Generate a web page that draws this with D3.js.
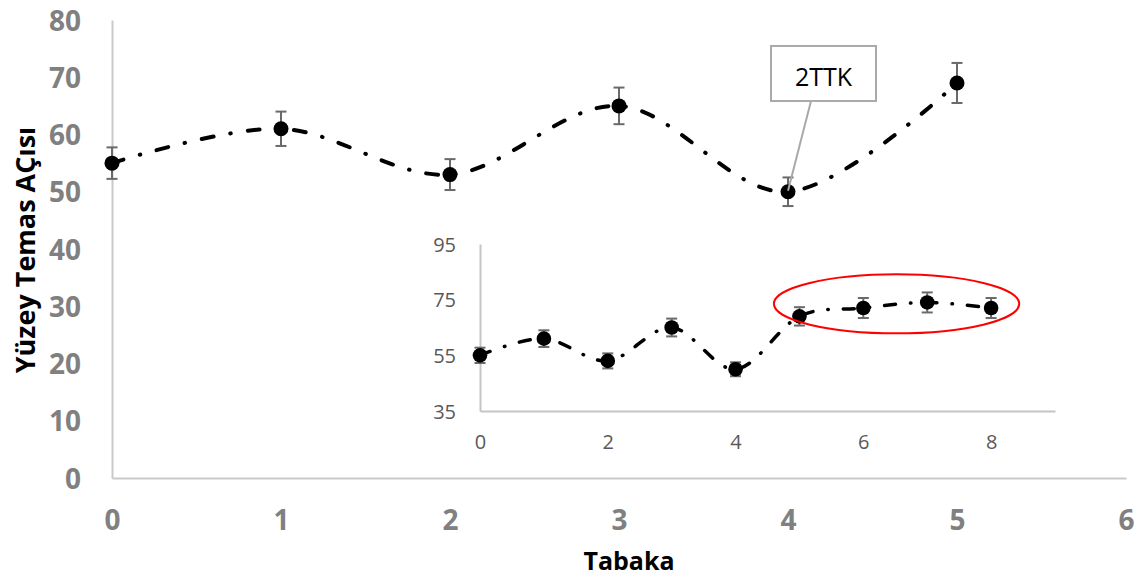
<!DOCTYPE html>
<html>
<head>
<meta charset="utf-8">
<script src="https://cdn.jsdelivr.net/npm/d3@7"></script>
<style>
  html, body { margin: 0; padding: 0; background: #fff; }
  svg { display: block; }
</style>
</head>
<body>
<svg id="chart" width="1144" height="581"></svg>
<script>
// Contact angle per layer (main series)
const layers = [0, 1, 2, 3, 4, 5];
const angles = [55, 61, 53, 65, 50, 69];
const errors = [2.75, 3.0, 2.7, 3.2, 2.5, 3.5];

// Extended series shown in the inset
const insetLayers = [0, 1, 2, 3, 4, 5, 6, 7, 8];
const insetAngles = [55, 61, 53, 65, 50, 69, 72, 74, 72];
const insetErrors = [2.75, 3.0, 2.7, 3.2, 2.5, 3.3, 3.6, 3.6, 3.6];

// Tick labels
const mainYTicks = [0, 10, 20, 30, 40, 50, 60, 70, 80];
const mainXTicks = [0, 1, 2, 3, 4, 5, 6];
const insetYTicks = [35, 55, 75, 95];
const insetXTicks = [0, 2, 4, 6, 8];

const FONT = "'Open Sans', 'Liberation Sans', sans-serif";
const svg = d3.select("#chart");

// ---------- main chart ----------
const x = d3.scaleLinear().domain([0, 6]).range([112, 1126]);
const y = d3.scaleLinear().domain([0, 80]).range([478, 20]);

const yAxis = svg.append("g")
  .attr("transform", `translate(${x(0)},0)`)
  .call(d3.axisLeft(y).tickValues(mainYTicks).tickSize(0).tickPadding(31).tickFormat(d3.format("d")));
const xAxis = svg.append("g")
  .attr("transform", `translate(0,${y(0)})`)
  .call(d3.axisBottom(x).tickValues(mainXTicks).tickSize(0).tickPadding(0).tickFormat(d3.format("d")));

[yAxis, xAxis].forEach(g => {
  g.select(".domain").attr("stroke", "#c9c9c9").attr("stroke-width", 2);
  g.selectAll("text")
    .attr("font-family", FONT).attr("font-weight", "bold")
    .attr("font-size", 28).attr("fill", "#808080");
});
yAxis.selectAll("text").attr("dy", "0.36em");
xAxis.selectAll("text").attr("y", 52).attr("dy", "0");

// axis titles
svg.append("text")
  .attr("transform", "translate(35,250) rotate(-90)")
  .attr("text-anchor", "middle")
  .attr("font-family", FONT).attr("font-weight", "bold").attr("font-size", 27)
  .attr("fill", "#000")
  .text("Yüzey Temas AÇısı");
svg.append("text")
  .attr("x", 629).attr("y", 570)
  .attr("text-anchor", "middle")
  .attr("font-family", FONT).attr("font-weight", "bold").attr("font-size", 25)
  .attr("fill", "#000")
  .text("Tabaka");

const mainData = layers.map((l, i) => ({ l, v: angles[i], e: errors[i] }));

// error bars
const eb = svg.append("g").attr("stroke", "#6a6a6a").attr("stroke-width", 2);
mainData.forEach(d => {
  const cx = x(d.l), y0 = y(d.v - d.e), y1 = y(d.v + d.e);
  eb.append("line").attr("x1", cx).attr("x2", cx).attr("y1", y0).attr("y2", y1);
  eb.append("line").attr("x1", cx - 5.5).attr("x2", cx + 5.5).attr("y1", y0).attr("y2", y0);
  eb.append("line").attr("x1", cx - 5.5).attr("x2", cx + 5.5).attr("y1", y1).attr("y2", y1);
});

// smoothed dash-dot line
const mainLine = d3.line().x(d => x(d.l)).y(d => y(d.v)).curve(d3.curveCardinal.tension(0));
svg.append("path")
  .datum(mainData)
  .attr("d", mainLine)
  .attr("fill", "none").attr("stroke", "#000").attr("stroke-width", 4)
  .attr("stroke-linecap", "round")
  .attr("stroke-dasharray", "12,17,0.5,17");

svg.append("g").selectAll("circle")
  .data(mainData).join("circle")
  .attr("cx", d => x(d.l)).attr("cy", d => y(d.v)).attr("r", 7.5)
  .attr("fill", "#000");

// callout on the 4th layer point
const calloutX = 771, calloutY = 46, calloutW = 105, calloutH = 55;
svg.append("line")
  .attr("x1", 811).attr("y1", calloutY + calloutH)
  .attr("x2", x(4)).attr("y2", y(50) - 1)
  .attr("stroke", "#a9a9a9").attr("stroke-width", 2);
svg.append("rect")
  .attr("x", calloutX).attr("y", calloutY).attr("width", calloutW).attr("height", calloutH)
  .attr("fill", "#fff").attr("stroke", "#aaaaaa").attr("stroke-width", 2);
svg.append("text")
  .attr("x", calloutX + calloutW / 2).attr("y", 86)
  .attr("text-anchor", "middle")
  .attr("font-family", FONT).attr("font-size", 25).attr("fill", "#000")
  .text("2TTK");

// ---------- inset chart ----------
const xi = d3.scaleLinear().domain([0, 9]).range([480, 1055]);
const yi = d3.scaleLinear().domain([35, 95]).range([411, 244]);

const yiAxis = svg.append("g")
  .attr("transform", `translate(${xi(0)},0)`)
  .call(d3.axisLeft(yi).tickValues(insetYTicks).tickSize(0).tickPadding(24).tickFormat(d3.format("d")));
const xiAxis = svg.append("g")
  .attr("transform", `translate(0,${yi(35)})`)
  .call(d3.axisBottom(xi).tickValues(insetXTicks).tickSize(0).tickPadding(0).tickFormat(d3.format("d")));

[yiAxis, xiAxis].forEach(g => {
  g.select(".domain").attr("stroke", "#c4c4c4").attr("stroke-width", 2);
  g.selectAll("text")
    .attr("font-family", FONT).attr("font-size", 20).attr("fill", "#595959");
});
yiAxis.selectAll("text").attr("dy", "0.36em");
xiAxis.selectAll("text").attr("y", 38).attr("dy", "0");

const insetData = insetLayers.map((l, i) => ({ l, v: insetAngles[i], e: insetErrors[i] }));

const ebi = svg.append("g").attr("stroke", "#6a6a6a").attr("stroke-width", 2);
insetData.forEach(d => {
  const cx = xi(d.l), y0 = yi(d.v - d.e), y1 = yi(d.v + d.e);
  ebi.append("line").attr("x1", cx).attr("x2", cx).attr("y1", y0).attr("y2", y1);
  ebi.append("line").attr("x1", cx - 5.5).attr("x2", cx + 5.5).attr("y1", y0).attr("y2", y0);
  ebi.append("line").attr("x1", cx - 5.5).attr("x2", cx + 5.5).attr("y1", y1).attr("y2", y1);
});

const insetLine = d3.line().x(d => xi(d.l)).y(d => yi(d.v)).curve(d3.curveCardinal.tension(0));
svg.append("path")
  .datum(insetData)
  .attr("d", insetLine)
  .attr("fill", "none").attr("stroke", "#000").attr("stroke-width", 3.5)
  .attr("stroke-linecap", "round")
  .attr("stroke-dasharray", "11,15,0.5,15");

svg.append("g").selectAll("circle")
  .data(insetData).join("circle")
  .attr("cx", d => xi(d.l)).attr("cy", d => yi(d.v)).attr("r", 7.3)
  .attr("fill", "#000");

// highlight around layers 5–8
svg.append("ellipse")
  .attr("cx", xi(6.52)).attr("cy", yi(73.5))
  .attr("rx", xi(1.92) - xi(0)).attr("ry", yi(35) - yi(45.6))
  .attr("fill", "none").attr("stroke", "#ff0000").attr("stroke-width", 2);
</script>
</body>
</html>
